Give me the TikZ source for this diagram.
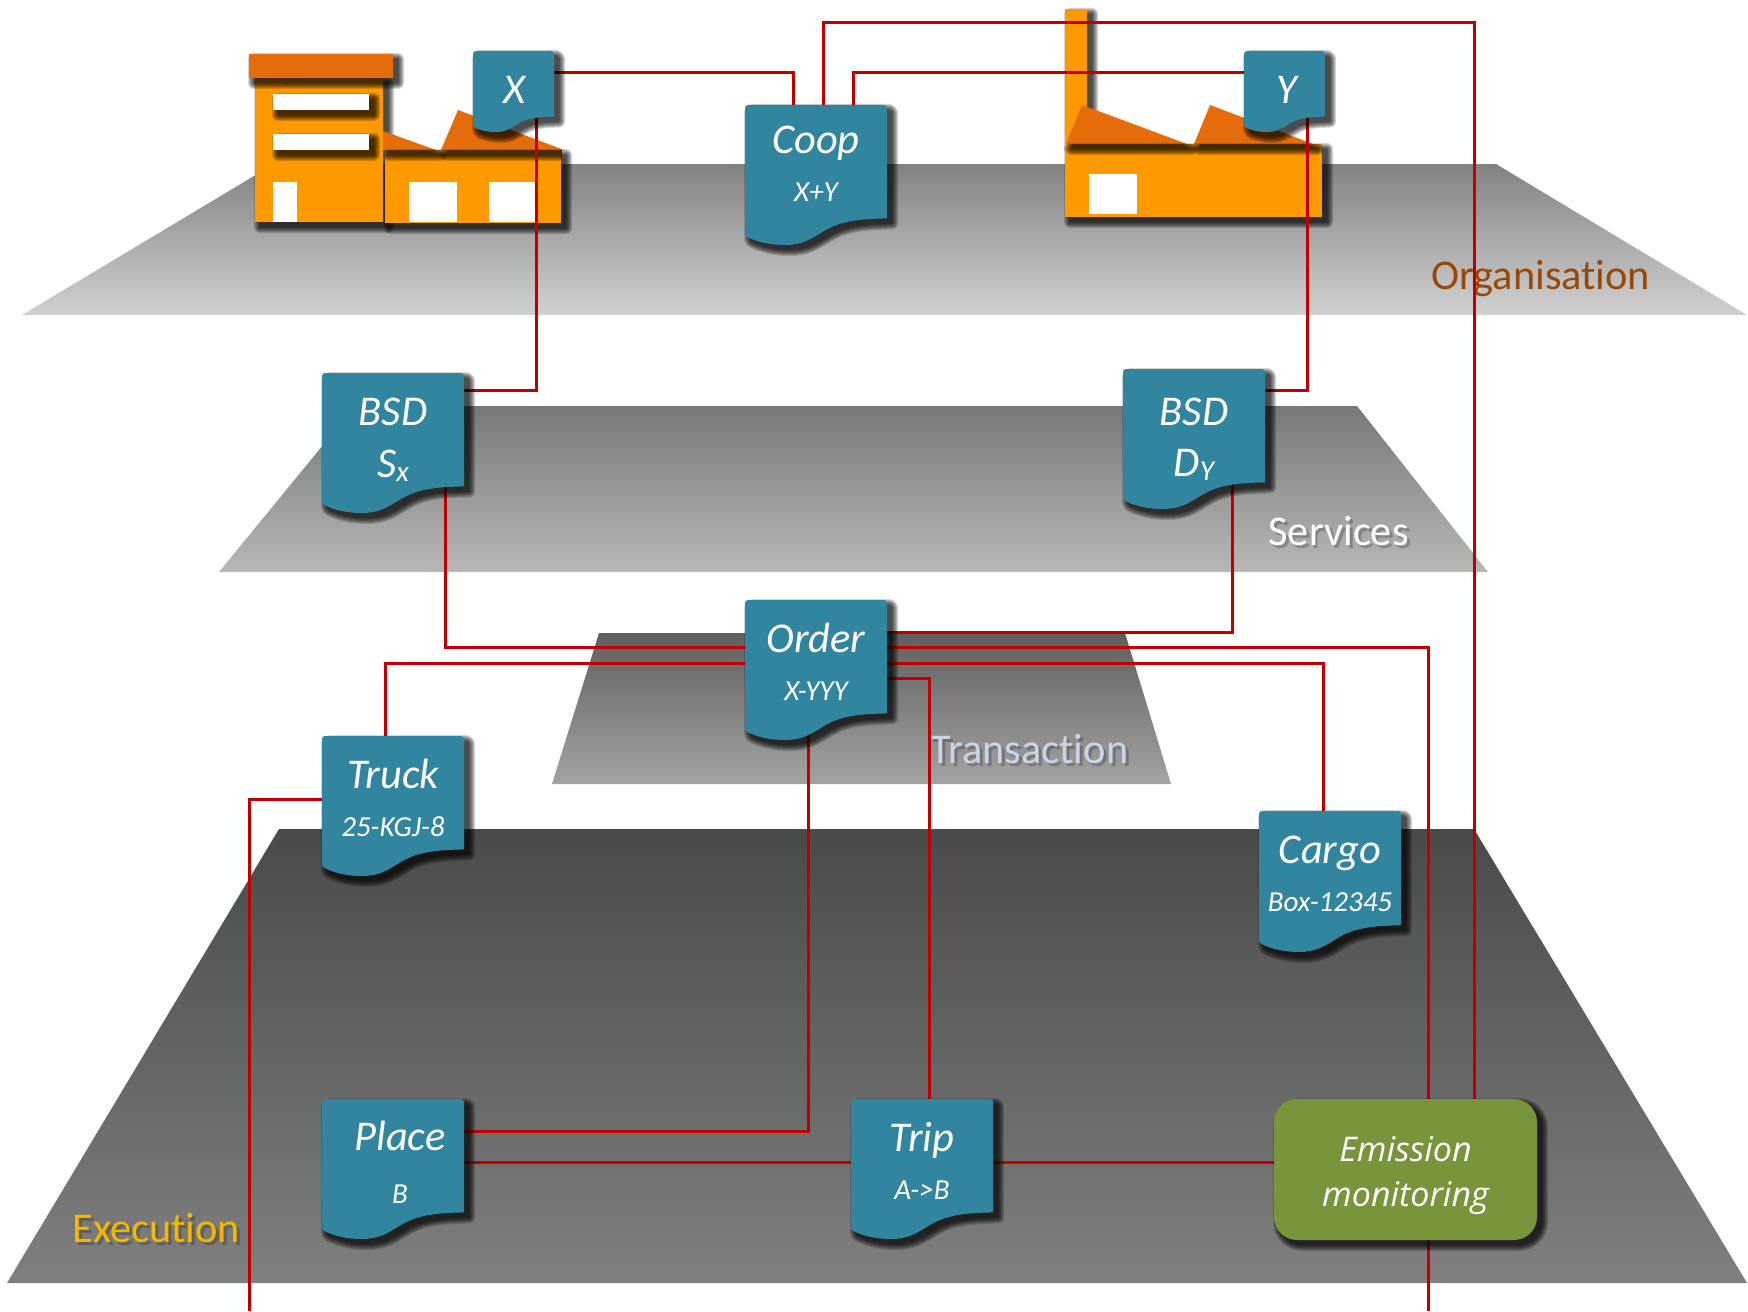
\documentclass[tikz,border=0pt]{standalone}
\usepackage{fontspec}
\setmainfont[Ligatures=CommonOff]{Carlito}
\newfontfamily\emfont{Open Sans}
\usetikzlibrary{calc}
\pgfdeclarelayer{bg}
\pgfdeclarelayer{conn}
\pgfsetlayers{bg,conn,main}
\definecolor{docblue}{HTML}{32859F}
\definecolor{emgreen}{HTML}{78953C}
\definecolor{orgorange}{HTML}{FF9900}
\definecolor{roofor}{HTML}{E46C0A}
\definecolor{linered}{HTML}{C00000}
\definecolor{orgtext}{HTML}{984807}
\definecolor{trtext}{HTML}{CCD5E6}
\definecolor{extext}{HTML}{F5B800}
\tikzset{
  conn/.style={draw=linered,line width=1.5pt},
  plane/.style={draw=none},
  layerlabel/.style={anchor=base west,inner sep=0pt,font=\fontsize{21.2}{25}\selectfont},
  docbox/.style={rectangle,inner sep=0pt,outer sep=0pt,text=white},
  emitbox/.style={rectangle,inner sep=0pt,outer sep=0pt,text=white,fill=emgreen,rounded corners=11.5pt},
  orangef/.style={fill=orgorange,draw=none},
  rooff/.style={fill=roofor,draw=none},
  whitef/.style={fill=white,draw=none},
  softlayer/.style={fill=black,draw=black,line join=round}
}
\newcommand{\softshadow}[1]{%
  \foreach \lw in {6,5,4,3,2,1,.2}{%
    \begin{scope}[transparency group,opacity=.16]
      \path[shift={(5,5)},softlayer,line width=\lw pt] #1;%
    \end{scope}
  }%
}
\newcommand{\wave}{(0,.935) .. controls (.09,.98) and (.18,1) .. (.28,1) .. controls (.40,1) and (.46,.96) .. (.54,.91) .. controls (.65,.84) and (.75,.815) .. (1,.81) [rounded corners=1.5pt] -- (1,0) -- (0,0) -- cycle}
\newcommand{\bigf}{\fontsize{21.2}{25}\itshape\selectfont}
\newcommand{\smallf}{\fontsize{14.5}{17}\itshape\selectfont}
% name, x1, y1, w, h, big, small, dx(pt), first baseline (px)
\newcommand{\docnode}[9]{%
  \begin{scope}[shift={(#2,#3)},x={(#4*.5pt,0)},y={(0,-#5*.5pt)}]
    \foreach \lw in {6,5,4,3,2,1,.2}{%
      \begin{scope}[transparency group,opacity=.16]
        \path[xshift=2.5pt,yshift=-2.5pt,softlayer,line width=\lw pt] \wave;%
      \end{scope}
    }
    \path[fill=docblue] \wave;
  \end{scope}
  \node[docbox,minimum width={#4*.5pt},minimum height={#5*.5pt}] (#1) at ({#2+#4/2},{#3+#5/2}) {%
    \vbox to \dimexpr #5pt/2\relax{\hsize=\dimexpr #4pt/2\relax\offinterlineskip
      \vskip\dimexpr #9pt/2\relax
      \hbox to \hsize{\hss\hspace*{#8pt}\smash{\bigf #6}\hss}%
      \vskip 24pt
      \hbox to \hsize{\hss\hspace*{#8pt}\smash{\smallf #7}\hss}%
      \vss}};%
}
\begin{document}
\begin{tikzpicture}[x=.5pt,y=-.5pt]
\path[use as bounding box] (0,0) rectangle (1748,1311);
\begin{pgfonlayer}{bg}
  % planes
  \shade[plane,top color=black!49,bottom color=black!18] (274,164) -- (1496,164) -- (1747,315) -- (22,315) -- cycle;
  \shade[plane,top color=black!53,bottom color=black!28] (355,406) -- (1357,406) -- (1488,572) -- (219,572) -- cycle;
  \shade[plane,top color=black!63,bottom color=black!36] (599,633) -- (1125,633) -- (1171,784) -- (552,784) -- cycle;
  \shade[plane,top color=black!71,bottom color=black!50] (279,829) -- (1474,829) -- (1747,1283) -- (7,1283) -- cycle;
  % layer labels
  \node[layerlabel,text=orgtext] (lorg) at (1431,289) {Organisation};
  \node[layerlabel,text=black,text opacity=.22] (lsvcs) at (1271,548) {Services};
  \node[layerlabel,text=white] (lsvc) at (1268,545) {Services};
  \node[layerlabel,text=black,text opacity=.22] (ltrs) at (933,766) {Transaction};
  \node[layerlabel,text=trtext] (ltr) at (930,763) {Transaction};
  \node[layerlabel,text=black,text opacity=.22] (lexs) at (75,1245) {Execution};
  \node[layerlabel,text=extext] (lex) at (72,1242) {Execution};
  % factory X: tall building
  \softshadow{(255,78) rectangle (383,222)}
  \path[orangef] (255,78) rectangle (383,222);
  \softshadow{(249,54) rectangle (393,78)}
  \path[rooff] (249,54) rectangle (393,78);
  \softshadow{(273,94) rectangle (369,110)}
  \path[whitef] (273,94) rectangle (369,110);
  \softshadow{(273,134) rectangle (369,150)}
  \path[whitef] (273,134) rectangle (369,150);
  \path[whitef] (273,182) rectangle (297,222);
  % factory X: low building
  \path[rooff] (383,131) -- (436,150) -- (383,150) -- cycle;
  \path[rooff] (458,110) -- (564,150) -- (441,150) -- cycle;
  \softshadow{(385,150) rectangle (561,223)}
  \path[orangef] (385,150) rectangle (561,223);
  \begin{scope}
    \clip (385,150) rectangle (561,223);
    \softshadow{(383,131) -- (436,150) -- (383,150) -- cycle}
    \softshadow{(458,110) -- (564,150) -- (441,150) -- cycle}
  \end{scope}
  \path[whitef] (409,182) rectangle (457,222);
  \path[whitef] (489,182) rectangle (536,222);
  % factory Y
  \softshadow{(1065,9) rectangle (1087,144)}
  \path[orangef] (1065,9) rectangle (1087,144);
  \path[rooff] (1082,105) -- (1187,144) -- (1066,144) -- cycle;
  \path[rooff] (1210,105) -- (1313,144) -- (1194,144) -- cycle;
  \softshadow{(1065,144) rectangle (1322,217)}
  \path[orangef] (1065,144) rectangle (1322,217);
  \begin{scope}
    \clip (1065,144) rectangle (1322,217);
    \softshadow{(1082,105) -- (1187,144) -- (1066,144) -- cycle}
    \softshadow{(1210,105) -- (1313,144) -- (1194,144) -- cycle}
  \end{scope}
  \path[whitef] (1089,174) rectangle (1137,214);
\end{pgfonlayer}

% document nodes
\docnode{X}{473}{51}{81}{81}{X}{}{1}{53}
\docnode{Coop}{745}{105}{142}{140}{Coop}{X+Y}{0}{48}
\docnode{Y}{1244}{51}{81}{81}{Y}{}{2}{53}
\docnode{BSDS}{322}{373}{142}{140}{BSD}{\bigf\lower2pt\hbox{S\lower2pt\hbox{\smallf x}}}{0}{52}
\docnode{BSDD}{1123}{369}{142}{140}{BSD}{\bigf\lower1.5pt\hbox{D\lower2pt\hbox{\smallf Y}}}{0}{56}
\docnode{Order}{745}{600}{142}{140}{Order}{X-YYY}{0}{52}
\docnode{Truck}{322}{736}{142}{140}{Truck}{25-KGJ-8}{0}{52}
\docnode{Cargo}{1259}{811}{142}{141}{Cargo}{Box-12345}{0}{52}
\docnode{Place}{322}{1099}{142}{140}{Place}{\lower2.5pt\hbox{B}}{7}{51}
\docnode{Trip}{851}{1099}{142}{140}{Trip}{A->B}{0}{52}

% emission monitoring
\softshadow{[rounded corners=11.5pt] (1274,1099) rectangle (1537,1240)}
\node[emitbox,minimum width=131.5pt,minimum height=70.5pt] (Emission) at (1405.5,1169.5) {%
  \vbox to 70.5pt{\hsize=131.5pt\offinterlineskip
    \vskip 31pt
    \hbox to \hsize{\hss\smash{\emfont\fontsize{17}{20}\itshape\selectfont Emission}\hss}%
    \vskip 22.5pt
    \hbox to \hsize{\hss\smash{\emfont\fontsize{17}{20}\itshape\selectfont monitoring}\hss}%
    \vss}};

\begin{pgfonlayer}{conn}
  \draw[conn] (X.east |- 0,73) -| (793,0 |- Coop.north);
  \draw[conn] (853,0 |- Coop.north) |- (Y.west |- 0,73);
  \draw[conn] (823,0 |- Coop.north) |- (1474,23) -- (1474,0 |- Emission.north);
  \draw[conn] (536,0 |- X.center) |- (BSDS.east |- 0,390);
  \draw[conn] (1307,0 |- Y.center) |- (BSDD.east |- 0,390);
  \draw[conn] (445,0 |- BSDS.center) |- (Order.west |- 0,647);
  \draw[conn] (1232,0 |- BSDD.center) |- (Order.east |- 0,632);
  \draw[conn] (385,0 |- Truck.north) |- (Order.west |- 0,663);
  \draw[conn] (1323,0 |- Cargo.north) |- (Order.east |- 0,663);
  \draw[conn] (1428,0 |- Emission.north) |- (Order.east |- 0,647);
  \draw[conn] (929,0 |- Trip.north) |- (Order.east |- 0,678);
  \draw[conn] (808,0 |- Order.center) |- (Place.east |- 0,1131);
  \draw[conn] (Place.east |- 0,1162) -- (Trip.west |- 0,1162);
  \draw[conn] (Trip.east |- 0,1162) -- (Emission.west |- 0,1162);
  \coordinate (truckend) at (249,1311);
  \coordinate (emend) at (1428,1311);
  \draw[conn] (Truck.west |- 0,799) -| (truckend);
  \draw[conn] (1428,0 |- Emission.south) -- (emend);
\end{pgfonlayer}
\end{tikzpicture}
\end{document}
